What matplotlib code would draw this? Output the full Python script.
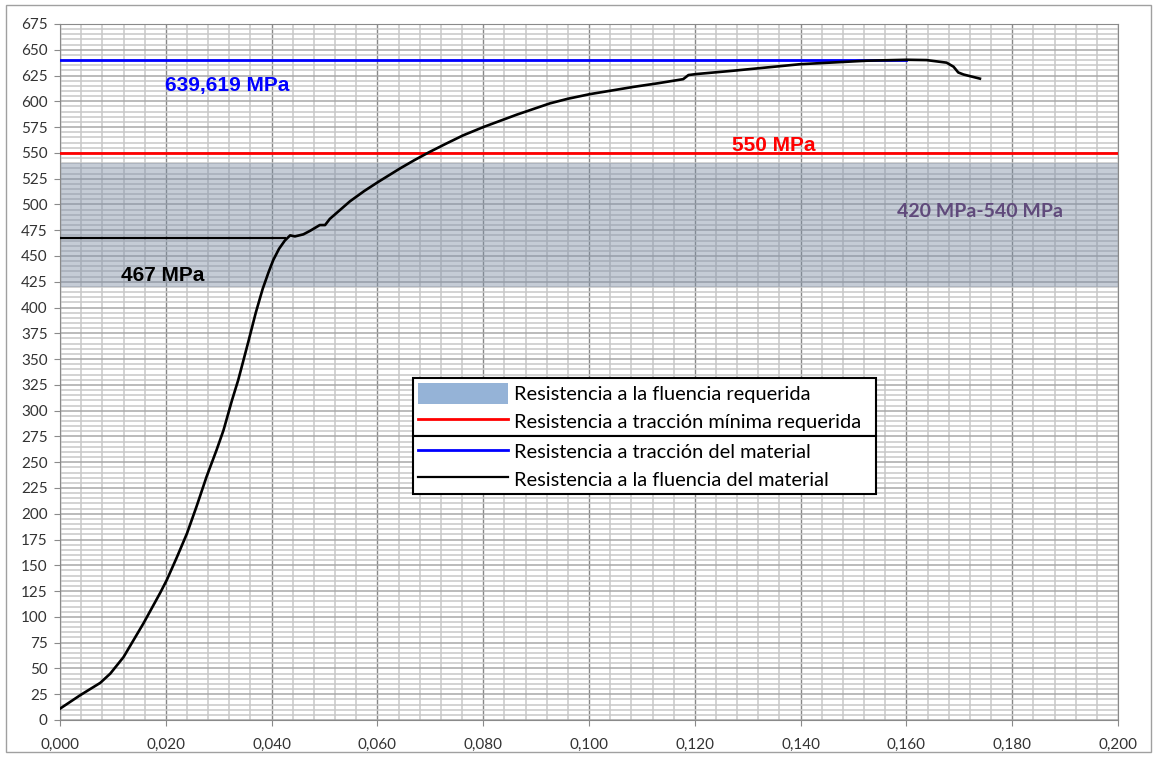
import numpy as np
import matplotlib.pyplot as plt
from matplotlib.patches import Patch, Rectangle
from matplotlib.ticker import MultipleLocator, FuncFormatter

# stress-strain curve
strain = [0.0, 0.0038, 0.0076, 0.0095, 0.0120, 0.0158, 0.0189, 0.0202, 0.0221,
          0.0240, 0.0258, 0.0277, 0.0296, 0.0309, 0.0325, 0.0337, 0.0355, 0.0370,
          0.0383, 0.0394, 0.0403, 0.0414, 0.0425, 0.0435, 0.0444, 0.0460, 0.0473,
          0.0491, 0.0501, 0.0510, 0.0548, 0.0575, 0.0602, 0.0643, 0.0670, 0.0699,
          0.0730, 0.0762, 0.0800, 0.0863, 0.0926, 0.0960, 0.1002, 0.1084, 0.1130,
          0.1178, 0.1188, 0.1204, 0.1273, 0.1399, 0.1525, 0.1601, 0.1638, 0.1676,
          0.1689, 0.1698, 0.1708, 0.1739]
stress = [11, 24, 36, 45, 61, 94, 123, 136, 158,
          181, 207, 236, 262, 281, 310, 330, 365, 395,
          418, 434, 446, 457, 465, 470, 469, 471, 474.5,
          480, 480, 486, 503, 513, 522, 535, 543, 551,
          559, 567, 575, 587, 598, 602.5, 607, 614, 617.5,
          621.5, 625.5, 626.5, 629.7, 636, 639.4, 640.3, 640,
          637.5, 633.6, 628, 626, 622]

tensile_material = 639.619
tensile_min = 550
yield_material = 467
yield_req_low, yield_req_high = 420, 540
yield_end = 0.0425
tensile_end = 0.160

fig = plt.figure(figsize=(11.57, 7.57), dpi=100)
ax = fig.add_axes([0.0519, 0.0489, 0.9144, 0.9194])

ax.set_xlim(0, 0.2)
ax.set_ylim(0, 675)
ax.xaxis.set_major_locator(MultipleLocator(0.02))
ax.xaxis.set_minor_locator(MultipleLocator(0.004))
ax.yaxis.set_major_locator(MultipleLocator(25))
ax.yaxis.set_minor_locator(MultipleLocator(5))
ax.xaxis.set_major_formatter(FuncFormatter(lambda v, p: f"{v:.3f}".replace(".", ",")))
ax.yaxis.set_major_formatter(FuncFormatter(lambda v, p: f"{v:.0f}"))

ax.grid(which="minor", color="#C8C8C8", linewidth=1.1)
ax.grid(which="major", axis="x", color="#888888", linewidth=1.0)
ax.grid(which="major", axis="y", color="#A8A8A8", linewidth=1.1)
ax.set_axisbelow(True)
ax.tick_params(which="minor", length=0)
ax.tick_params(which="major", length=4, color="#8A8A8A", labelcolor="#333333",
               labelsize=11)
ax.tick_params(axis="x", pad=9)
ax.tick_params(axis="y", pad=5)
for lab in ax.get_xticklabels() + ax.get_yticklabels():
    lab.set_family("Lato")
for s in ax.spines.values():
    s.set_color("#8A8A8A")

band = ax.fill_between([0, 0.2], yield_req_low, yield_req_high, color="#7F8FA6",
                       alpha=0.45, linewidth=0, zorder=1)
red, = ax.plot([0, 0.2], [tensile_min, tensile_min], color="#FF0000", lw=2, zorder=3)
blue, = ax.plot([0, tensile_end], [tensile_material, tensile_material],
                color="#0000FF", lw=2, zorder=3)
black, = ax.plot([0, yield_end], [yield_material, yield_material], color="black",
                 lw=1.6, zorder=3)
ax.plot(strain, stress, color="black", lw=1.9, zorder=4, solid_joinstyle="round")

bold = dict(family="Liberation Sans", weight="bold", fontsize=15, va="center")
ax.text(0.0198, 615.8, "639,619 MPa", color="#0000FF", **bold)
ax.text(0.127, 557.6, "550 MPa", color="#FF0000", **bold)
ax.text(0.0115, 430.6, "467 MPa", color="black", **bold)
ax.text(0.1582, 492.7, "420 MPa-540 MPa", color="#604A7B", family="Lato",
        weight="bold", fontsize=14, va="center")

leg_kw = dict(mode="expand", borderaxespad=0, borderpad=0.25,
              handlelength=4.5, handleheight=1.2, handletextpad=0.3,
              labelspacing=0.35, fancybox=False, framealpha=1, edgecolor="black",
              prop={"family": "Lato", "size": 14.4})
leg1 = ax.legend([Patch(facecolor="#95B3D7"), red],
                 ["Resistencia a la fluencia requerida",
                  "Resistencia a tracción mínima requerida"],
                 loc="lower left", bbox_to_anchor=(0.3336, 0.408, 0.4377, 0.08),
                 **leg_kw)
leg1.get_frame().set_linewidth(1.5)
ax.add_artist(leg1)
leg2 = ax.legend([blue, black],
                 ["Resistencia a tracción del material",
                  "Resistencia a la fluencia del material"],
                 loc="upper left", bbox_to_anchor=(0.3336, 0.328, 0.4377, 0.08),
                 **leg_kw)
leg2.get_frame().set_linewidth(1.5)
for leg in (leg1, leg2):
    leg.set_zorder(10)

fig.patches.append(Rectangle((0.005, 0.006), 0.99, 0.988, transform=fig.transFigure,
                             fill=False, edgecolor="#A0A0A0", linewidth=1))

fig.savefig("out.png", dpi=100)
